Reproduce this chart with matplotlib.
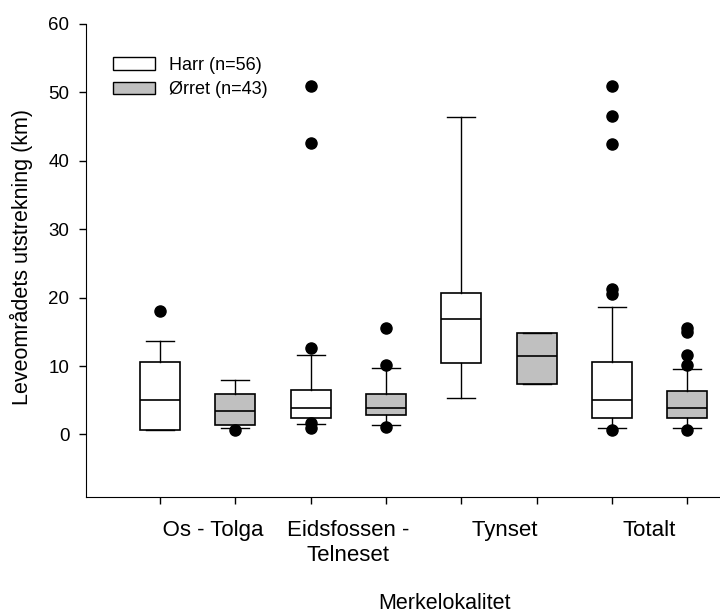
import matplotlib
matplotlib.use("Agg")
import matplotlib.pyplot as plt
from matplotlib.patches import Patch

plt.rcParams['font.family'] = ['Liberation Sans', 'DejaVu Sans']

# sites (each has one Harr and one Ørret box)
sites = ['Os - Tolga', 'Eidsfossen -\nTelneset', 'Tynset', 'Totalt']

# Harr (grayling) box stats per site, km
harr_lo = [0.6, 1.55, 5.4, 1.0]
harr_q1 = [0.6, 2.4, 10.4, 2.4]
harr_med = [5.0, 3.9, 16.9, 5.0]
harr_q3 = [10.6, 6.45, 20.7, 10.6]
harr_hi = [13.7, 11.6, 46.4, 18.7]
harr_out = [[18.1], [51.0, 42.6, 12.6, 1.7, 1.0], [], [50.9, 46.5, 42.5, 21.3, 20.5, 0.6]]

# Ørret (trout) box stats per site, km
orret_lo = [1.0, 1.4, 7.4, 1.0]
orret_q1 = [1.4, 2.9, 7.4, 2.4]
orret_med = [3.5, 3.9, 11.4, 3.9]
orret_q3 = [5.9, 5.9, 14.9, 6.4]
orret_hi = [7.9, 9.7, 14.9, 9.5]
orret_out = [[0.6], [15.6, 10.1, 1.1], [], [15.6, 15.0, 11.6, 10.2, 0.6]]

yticks = [0, 10, 20, 30, 40, 50, 60]


def make_stats(lo, q1, med, q3, hi, out):
    return [dict(whislo=a, q1=b, med=c, q3=d, whishi=e, fliers=f)
            for a, b, c, d, e, f in zip(lo, q1, med, q3, hi, out)]


harr_stats = make_stats(harr_lo, harr_q1, harr_med, harr_q3, harr_hi, harr_out)
orret_stats = make_stats(orret_lo, orret_q1, orret_med, orret_q3, orret_hi, orret_out)

harr_pos = [1 + 2 * i for i in range(len(sites))]
orret_pos = [p + 1 for p in harr_pos]

fig = plt.figure(figsize=(7.2, 6.14), dpi=100)
ax = fig.add_axes([86 / 720, 1 - 496.7 / 614, 633 / 720, 472.7 / 614])

common = dict(widths=0.53, capwidths=0.37, patch_artist=True, manage_ticks=False,
              whiskerprops=dict(color='black', linewidth=1.0),
              capprops=dict(color='black', linewidth=1.0),
              medianprops=dict(color='black', linewidth=1.2),
              flierprops=dict(marker='o', markerfacecolor='black',
                              markeredgecolor='black', markersize=8))
ax.bxp(harr_stats, positions=harr_pos,
       boxprops=dict(facecolor='white', edgecolor='black', linewidth=1.2), **common)
ax.bxp(orret_stats, positions=orret_pos,
       boxprops=dict(facecolor='#c0c0c0', edgecolor='black', linewidth=1.2), **common)

ax.set_xlim(0.02, 8.42)
ax.set_ylim(-9.1, 60)
ax.spines['top'].set_visible(False)
ax.spines['right'].set_visible(False)

ax.set_yticks(yticks)
ax.tick_params(axis='y', direction='out', length=5, width=1, labelsize=13.5, pad=7)
ax.set_xticks(harr_pos + orret_pos)
ax.set_xticklabels([])
ax.tick_params(axis='x', which='major', direction='out', length=5, width=1)

# site names sit between the two boxes of each pair
centers = [(a + b) / 2 for a, b in zip(harr_pos, orret_pos)]
labels = list(sites)
labels[0] = '     ' + labels[0]
labels[2] = '  ' + labels[2]
ax.set_xticks(centers, minor=True)
ax.set_xticklabels(labels, minor=True, fontsize=16)
ax.tick_params(axis='x', which='minor', length=0, pad=17)

ax.set_ylabel('Leveområdets utstrekning (km)', fontsize=15.5)
ax.yaxis.set_label_coords(-0.084, 0.508)
ax.set_xlabel('Merkelokalitet', fontsize=15.5)
ax.xaxis.set_label_coords(0.567, -0.203)
ax.xaxis.label.set_va('top')

handles = [Patch(facecolor='white', edgecolor='black', linewidth=1),
           Patch(facecolor='#c0c0c0', edgecolor='black', linewidth=1)]
ax.legend(handles, ['Harr (n=56)', 'Ørret (n=43)'], loc='upper left',
          bbox_to_anchor=(113 / 720, 1 - 57 / 614), bbox_transform=fig.transFigure,
          frameon=False, fontsize=13, handlelength=2.35, handleheight=0.7,
          handletextpad=0.75, labelspacing=0.4, borderpad=0, borderaxespad=0)

fig.savefig('out.png', dpi=100)
